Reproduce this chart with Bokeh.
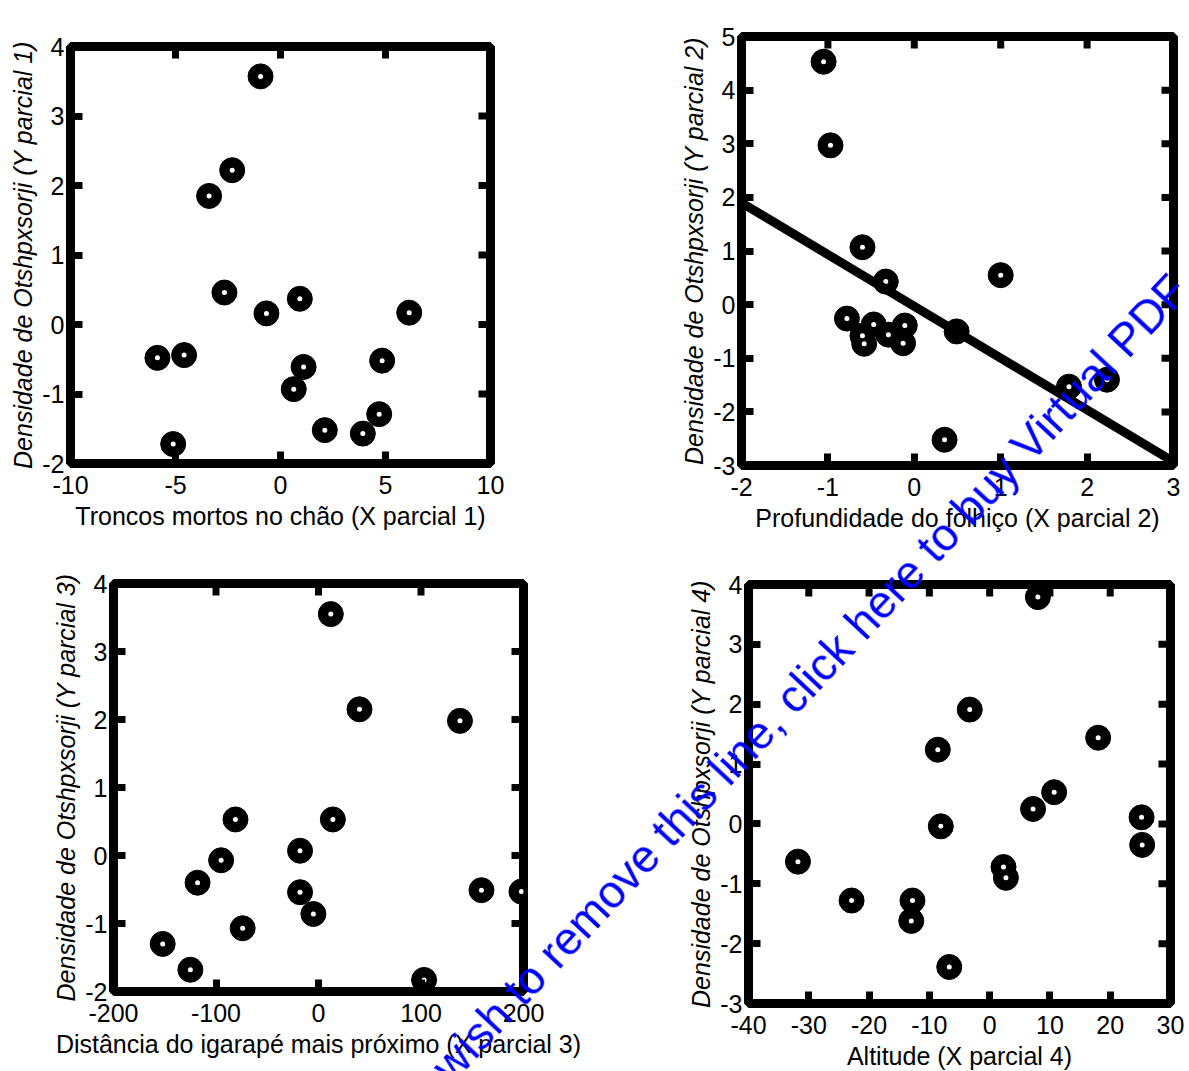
import math
from bokeh.plotting import figure
from bokeh.layouts import column, row
from bokeh.models import Range1d, FixedTicker, Div
from bokeh.embed import file_html
from bokeh.resources import INLINE

# ---------------- data ----------------
p1_x = [-0.95, -2.3, -3.4, -2.67, -0.67, 0.92, 6.13, -5.86, -4.59, 1.1, 4.84, 0.63, 4.7, 2.11, 3.92, -5.11]
p1_y = [3.57, 2.22, 1.85, 0.46, 0.16, 0.37, 0.17, -0.48, -0.44, -0.61, -0.52, -0.93, -1.29, -1.52, -1.57, -1.72]

p2_x = [-1.05, -0.97, -0.60, -0.33, 1.0, -0.78, -0.47, -0.11, -0.30, -0.60, -0.58, -0.13, 0.49, 1.79, 2.23, 0.35]
p2_y = [4.53, 2.97, 1.07, 0.43, 0.55, -0.26, -0.37, -0.39, -0.56, -0.58, -0.73, -0.72, -0.50, -1.53, -1.40, -2.52]
fit2_x = [-2, 3]
fit2_y = [1.90, -2.93]

p3_x = [12, 40, 138, -81, 14, -18, -95, -118, -18, 159, 198, -5, -74, -152, -125, 103]
p3_y = [3.55, 2.15, 1.98, 0.53, 0.53, 0.07, -0.07, -0.40, -0.54, -0.51, -0.53, -0.86, -1.07, -1.30, -1.68, -1.83]

p4_x = [8.0, -3.3, -8.6, 18.0, 10.7, 7.2, -8.1, 25.2, 25.3, -31.8, 2.3, 2.7, -22.9, -12.8, -13.0, -6.7]
p4_y = [3.79, 1.91, 1.24, 1.44, 0.53, 0.25, -0.04, 0.11, -0.35, -0.63, -0.72, -0.90, -1.28, -1.28, -1.62, -2.39]

x1_ticks = [-10, -5, 0, 5, 10]
x1_labels = ["-10", "-5", "0", "5", "10"]
y1_ticks = [-2, -1, 0, 1, 2, 3, 4]
y1_labels = ["-2", "-1", "0", "1", "2", "3", "4"]

x2_ticks = [-2, -1, 0, 1, 2, 3]
x2_labels = ["-2", "-1", "0", "1", "2", "3"]
y2_ticks = [-3, -2, -1, 0, 1, 2, 3, 4, 5]
y2_labels = ["-3", "-2", "-1", "0", "1", "2", "3", "4", "5"]

x3_ticks = [-200, -100, 0, 100, 200]
x3_labels = ["-200", "-100", "0", "100", "200"]
y3_ticks = [-2, -1, 0, 1, 2, 3, 4]
y3_labels = ["-2", "-1", "0", "1", "2", "3", "4"]

x4_ticks = [-40, -30, -20, -10, 0, 10, 20, 30]
x4_labels = ["-40", "-30", "-20", "-10", "0", "10", "20", "30"]
y4_ticks = [-3, -2, -1, 0, 1, 2, 3, 4]
y4_labels = ["-3", "-2", "-1", "0", "1", "2", "3", "4"]

x_titles = [
    "Troncos mortos no chão (X parcial 1)",
    "Profundidade do folhiço (X parcial 2)",
    "Distância do igarapé mais próximo (X parcial 3)",
    "Altitude (X parcial 4)",
]
y_titles = [
    "Densidade de Otshpxsorji (Y parcial 1)",
    "Densidade de Otshpxsorji (Y parcial 2)",
    "Densidade de Otshpxsorji (Y parcial 3)",
    "Densidade de Otshpxsorji (Y parcial 4)",
]

watermark = "wish to remove this line, click here to buy Virtual PDF"

FONT = "Liberation Sans"
FS = "25px"

TOP_H = 545
BOT_H = 1071 - TOP_H
W1 = 600
W3 = 620


def make_panel(xs, ys, xr, yr, xt, xl, yt, yl, xtitle, ytitle, fig_box, frame_box):
    fx, fy, fw, fh = fig_box
    L, T, R, B = frame_box
    p = figure(
        frame_width=R - L, frame_height=B - T,
        min_border_left=L - fx, min_border_top=T - fy,
        min_border_right=fx + fw - R, min_border_bottom=fy + fh - B,
        x_range=Range1d(*xr), y_range=Range1d(*yr),
        output_backend="svg", toolbar_location=None,
        background_fill_color="white", border_fill_color="white",
    )
    p.xgrid.visible = False
    p.ygrid.visible = False
    p.outline_line_color = "black"
    p.outline_line_width = 9
    p.outline_line_alpha = 1.0

    for ax, ticks, labels in ((p.xaxis[0], xt, xl), (p.yaxis[0], yt, yl)):
        ax.ticker = FixedTicker(ticks=ticks)
        ax.major_label_overrides = {t: s for t, s in zip(ticks, labels)}
        ax.axis_line_color = None
        ax.minor_tick_line_color = None
        ax.major_tick_out = 0
        ax.major_tick_in = 12
        ax.major_tick_line_width = 7
        ax.major_tick_line_color = "black"
        ax.major_label_text_font = FONT
        ax.major_label_text_font_size = FS
        ax.major_label_text_color = "black"
        ax.axis_label_text_font = FONT
        ax.axis_label_text_font_size = FS
        ax.axis_label_text_color = "black"
        ax.axis_label_text_font_style = "normal"
    p.xaxis[0].axis_label = xtitle
    p.xaxis[0].major_label_standoff = 12
    p.xaxis[0].axis_label_standoff = 5
    p.yaxis[0].axis_label = ytitle
    p.yaxis[0].axis_label_text_font_style = "italic"
    p.yaxis[0].major_label_standoff = 6
    p.yaxis[0].axis_label_standoff = 2

    # inward tick marks on the top and right edges (half of each dash is clipped by the frame)
    p.scatter(xt, [yr[1]] * len(xt), marker="dash", size=24, angle=math.pi / 2,
              line_width=7, line_color="black")
    p.scatter([xr[1]] * len(yt), yt, marker="dash", size=24, angle=0,
              line_width=7, line_color="black")

    p.scatter(xs, ys, size=25, color="black", line_color="black")
    p.scatter(xs, ys, size=5, color="white", line_color=None)
    return p


p1 = make_panel(p1_x, p1_y, (-10, 10), (-2, 4), x1_ticks, x1_labels, y1_ticks, y1_labels,
                x_titles[0], y_titles[0], (0, 0, W1, TOP_H), (70, 46, 490, 463))
p2 = make_panel(p2_x, p2_y, (-2, 3), (-3, 5), x2_ticks, x2_labels, y2_ticks, y2_labels,
                x_titles[1], y_titles[1], (W1, 0, 1189 - W1, TOP_H), (741, 36, 1173, 465))
p2.line(fit2_x, fit2_y, line_width=9, line_color="black")
p3 = make_panel(p3_x, p3_y, (-200, 200), (-2, 4), x3_ticks, x3_labels, y3_ticks, y3_labels,
                x_titles[2], y_titles[2], (0, TOP_H, W3, BOT_H), (113, 583, 523, 991))
p4 = make_panel(p4_x, p4_y, (-40, 30), (-3, 4), x4_ticks, x4_labels, y4_ticks, y4_labels,
                x_titles[3], y_titles[3], (W3, TOP_H, 1189 - W3, BOT_H), (748, 584, 1170, 1003))

# watermark text laid across the whole page (baseline starts near page x=452, y=1085)
wm_html = (
    '<div style="position:fixed; left:452px; top:1046px; margin:0; padding:0; '
    'font-family:\'Liberation Sans\', Arial, sans-serif; font-size:46px; line-height:46px; '
    'color:#0000ff; white-space:nowrap; pointer-events:none; z-index:10; '
    'transform-origin:0px 39px; transform:rotate(-47deg);">'
    + watermark + '</div>'
)
wm = Div(text=wm_html, width=0, height=0)

layout = column(row(column(p1), column(p2)), row(column(p3), column(p4)), wm)
open("out.html", "w").write(file_html(layout, INLINE))
